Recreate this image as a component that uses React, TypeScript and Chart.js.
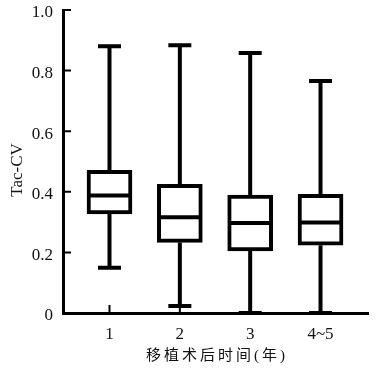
import React, { useEffect, useRef } from "react";
import { Chart, registerables } from "chart.js";

Chart.register(...registerables);

const categories = ["1", "2", "3", "4~5"];
const whiskerMin = [0.149, 0.023, 0.0, 0.0];
const q1 = [0.327, 0.233, 0.205, 0.224];
const median = [0.388, 0.316, 0.297, 0.299];
const q3 = [0.471, 0.425, 0.389, 0.392];
const whiskerMax = [0.88, 0.884, 0.858, 0.766];
const yTicks = [0, 0.2, 0.4, 0.6, 0.8, 1.0];
const xTitle = "移植术后时间(年)";
const yTitle = "Tac-CV";

const boxPlugin = {
  id: "boxExtras",
  afterDatasetsDraw(chart: any) {
    const ctx = chart.ctx;
    const xs = chart.scales.x;
    const ys = chart.scales.y;
    ctx.save();
    ctx.strokeStyle = "#000";
    ctx.lineWidth = 4;
    ctx.lineCap = "butt";
    categories.forEach((_, i) => {
      const x = xs.getPixelForValue(i + 1);
      const yMax = ys.getPixelForValue(whiskerMax[i]);
      const yQ3 = ys.getPixelForValue(q3[i]);
      const yQ1 = ys.getPixelForValue(q1[i]);
      const yMin = ys.getPixelForValue(whiskerMin[i]);
      const yMed = ys.getPixelForValue(median[i]);
      ctx.beginPath();
      ctx.moveTo(x, yQ3);
      ctx.lineTo(x, yMax);
      ctx.moveTo(x, yQ1);
      ctx.lineTo(x, yMin);
      ctx.moveTo(x - 11.5, yMax);
      ctx.lineTo(x + 11.5, yMax);
      ctx.moveTo(x - 11.5, yMin);
      ctx.lineTo(x + 11.5, yMin);
      ctx.moveTo(x - 22, yMed);
      ctx.lineTo(x + 22, yMed);
      ctx.stroke();
    });
    ctx.restore();
  },
  afterDraw(chart: any) {
    const ctx = chart.ctx;
    const xs = chart.scales.x;
    const ys = chart.scales.y;
    const area = chart.chartArea;
    ctx.save();
    ctx.strokeStyle = "#000";
    ctx.lineWidth = 2;
    ctx.beginPath();
    yTicks.forEach((v) => {
      if (v === 0) return;
      const y = ys.getPixelForValue(v);
      ctx.moveTo(area.left, y);
      ctx.lineTo(area.left + 8, y);
    });
    categories.forEach((_, i) => {
      const x = xs.getPixelForValue(i + 1);
      ctx.moveTo(x, area.bottom);
      ctx.lineTo(x, area.bottom - 8);
    });
    ctx.stroke();

    ctx.fillStyle = "#111";
    ctx.font = "15px 'Liberation Serif', 'Noto Sans CJK SC'";
    (ctx as any).letterSpacing = "3px";
    ctx.textAlign = "center";
    ctx.textBaseline = "middle";
    ctx.fillText(xTitle, (area.left + area.right) / 2 + 1.5, 356);
    (ctx as any).letterSpacing = "0px";

    ctx.translate(18, 170);
    ctx.rotate(-Math.PI / 2);
    ctx.font = "17px 'Liberation Serif'";
    ctx.fillText(yTitle, 0, 0);
    ctx.restore();
  },
};

export default function App() {
  const ref = useRef<HTMLCanvasElement>(null);
  useEffect(() => {
    if (!ref.current) return;
    const chart = new Chart(ref.current, {
      type: "bar",
      data: {
        datasets: [
          {
            data: categories.map((_, i) => ({ x: i + 1, y: [q1[i], q3[i]] })) as any,
            backgroundColor: "#fff",
            borderColor: "#000",
            borderWidth: 4,
            borderSkipped: false,
            barThickness: 45,
          },
        ],
      },
      options: {
        animation: false,
        responsive: false,
        layout: { padding: { left: 0, right: 19, top: 10, bottom: 0 } },
        plugins: { legend: { display: false }, tooltip: { enabled: false } },
        scales: {
          x: {
            type: "linear",
            offset: false,
            min: 0.339,
            max: 4.675,
            grid: { display: false, drawTicks: false, offset: false },
            border: { display: true, color: "#000", width: 3 },
            afterBuildTicks: (scale: any) => {
              scale.ticks = categories.map((_, i) => ({ value: i + 1 }));
            },
            afterFit: (scale: any) => {
              scale.height = 60;
              scale.paddingLeft = 0;
              scale.paddingRight = 0;
            },
            ticks: {
              autoSkip: false,
              maxRotation: 0,
              padding: 11,
              color: "#111",
              font: { family: "'Liberation Serif'", size: 17 },
              callback: (v: any) => categories[Math.round(v) - 1] ?? "",
            },
          },
          y: {
            type: "linear",
            min: 0,
            max: 1,
            grid: { display: false, drawTicks: false },
            border: { display: true, color: "#000", width: 3 },
            afterBuildTicks: (scale: any) => {
              scale.ticks = yTicks.map((v) => ({ value: v }));
            },
            afterFit: (scale: any) => {
              scale.width = 63;
              scale.paddingTop = 0;
              scale.paddingBottom = 0;
            },
            ticks: {
              padding: 10,
              labelOffset: 3,
              color: "#111",
              font: { family: "'Liberation Serif'", size: 17 },
              callback: (v: any) => (v === 0 ? "0" : Number(v).toFixed(1)),
            },
          },
        },
      },
      plugins: [boxPlugin],
    });
    return () => chart.destroy();
  }, []);
  return (
    <div style={{ position: "absolute", left: 0, top: 0, width: 387, height: 373, background: "#fff" }}>
      <canvas ref={ref} width={387} height={373} style={{ display: "block" }} />
    </div>
  );
}
